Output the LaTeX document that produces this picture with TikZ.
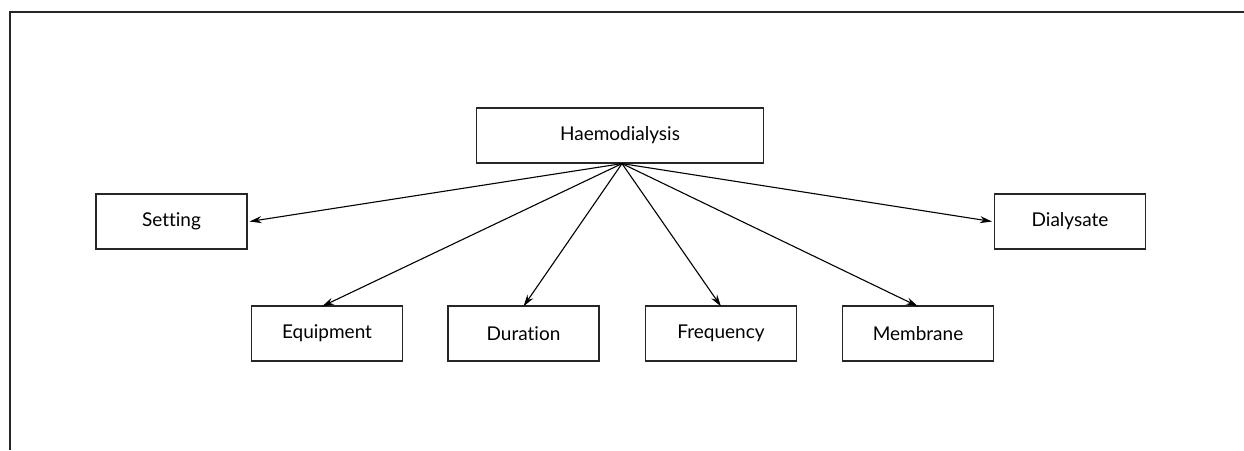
\documentclass[tikz,border=0pt]{standalone}
\usepackage{fontspec}
\setmainfont{Lato}[Ligatures={NoCommon}]
\usetikzlibrary{arrows.meta}
\begin{document}
\begin{tikzpicture}[x=1pt,y=-1pt,
  box/.style={draw=black!85, line width=1.2pt, minimum width=151pt, minimum height=55pt, inner sep=0pt, font=\fontsize{19}{22}\selectfont},
  arr/.style={line width=1.1pt, -{Stealth[length=12pt,width=7pt]}}]
\useasboundingbox (0,0) rectangle (1244,450);
\draw[line width=2pt, black!85] (10,450) -- (10,12) -- (1244,12);
\node[box, minimum width=287pt] (hd) at (620,135.5) {Haemodialysis};
\node[box] (set) at (171.5,221.5) {Setting};
\node[box] (dia) at (1070,221.5) {Dialysate};
\node[box] (equ) at (327,333.5) {Equipment};
\node[box] (dur) at (523.5,333.5) {Duration};
\node[box] (fre) at (721,333.5) {Frequency};
\node[box] (mem) at (918,333.5) {Membrane};
\coordinate (src) at ([xshift=2pt]hd.south);
\draw[arr] (src) -- ([xshift=2pt]set.east);
\draw[arr] (src) -- ([xshift=-2pt]dia.west);
\draw[arr] (src) -- ([xshift=-5pt,yshift=-1pt]equ.north);
\draw[arr] (src) -- ([yshift=-1pt]dur.north);
\draw[arr] (src) -- ([yshift=-1pt]fre.north);
\draw[arr] (src) -- ([yshift=-1pt]mem.north);
\end{tikzpicture}
\end{document}
